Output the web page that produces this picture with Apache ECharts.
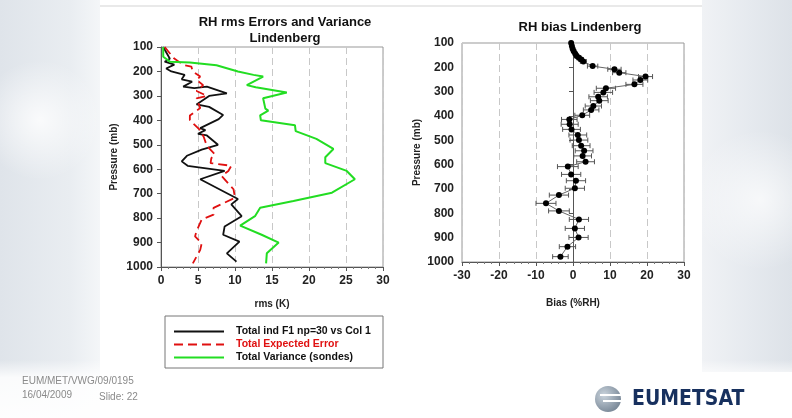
<!DOCTYPE html>
<html>
<head>
<meta charset="utf-8">
<script src="https://cdn.jsdelivr.net/npm/echarts@6/dist/echarts.min.js"></script>
<style>
  html, body { margin: 0; padding: 0; background: #fff; }
  #chart { width: 792px; height: 418px; }
</style>
</head>
<body>
<div id="chart"></div>
<script>
// rms profiles, [rms (K), pressure (mb)]
var rmsF1 = [[0.3,100],[1.2,148],[0.5,160],[1.8,172],[0.7,188],[1.4,200],[3.2,214],[2.8,232],[4.2,242],
    [3.0,262],[4.5,268],[6.2,262],[8.9,290],[6.5,300],[4.8,335],[6.5,345],[8.4,378],[7.8,395],[5.3,432],
    [6.0,440],[5.0,455],[6.2,462],[7.7,500],[5.5,520],[3.5,545],[2.8,568],[3.6,586],[8.6,607],[5.3,641],
    [10.4,722],[9.5,744],[10.9,792],[8.6,834],[8.4,868],[10.6,896],[8.9,944],[10.2,978]];
var rmsExpected = [[0.5,100],[1.7,145],[3.0,173],[4.1,180],[4.3,200],[5.3,221],[4.8,235],[5.7,256],[4.8,280],
    [6.2,300],[4.8,310],[5.3,350],[3.9,380],[3.9,400],[5.3,440],[5.8,470],[6.2,505],[7.3,540],[6.8,555],
    [6.7,575],[9.5,586],[9.1,607],[8.2,628],[9.8,682],[10.0,717],[7.1,758],[7.1,786],[5.5,806],[4.8,854],
    [4.6,875],[5.5,903],[5.3,930],[4.3,985]];
var varSondes = [[0.3,100],[0.3,140],[1.2,160],[3.9,163],[7.5,175],[10.4,200],[12.5,214],[13.8,221],[11.6,256],
    [12.8,265],[17.0,286],[13.8,310],[14.1,352],[14.5,360],[13.4,380],[13.5,400],[18.1,420],[18.2,444],
    [21.0,476],[23.3,517],[22.2,551],[22.2,575],[25.1,607],[26.2,641],[23.1,696],[17.9,730],[13.4,758],
    [12.7,792],[10.7,831],[13.6,868],[15.9,900],[14.3,944],[14.2,985]];

// bias profile, [bias (%RH), pressure (mb), half error]
var bias = [[-0.5,100,0.2],[-0.3,112,0.2],[-0.1,124,0.2],[0.2,134,0.3],[0.6,144,0.3],[1.0,153,0.4],
    [1.6,161,0.5],[2.2,168,0.6],[2.8,176,0.8],[5.3,195,1.4],[11.2,208,1.8],[12.5,222,1.8],[19.6,238,1.9],
    [18.2,252,2.0],[16.6,270,2.3],[8.9,286,2.6],[8.2,303,2.5],[6.8,321,2.5],[7.1,337,2.4],[5.5,359,2.2],
    [4.9,375,2.1],[2.5,397,2.0],[-1.0,414,2.1],[-0.9,434,2.3],[-0.4,455,2.4],[1.3,478,2.4],[1.6,499,2.4],
    [2.2,522,2.4],[3.0,543,2.4],[2.6,564,2.4],[3.4,588,2.4],[-1.4,608,2.8],[-0.5,640,2.6],[0.8,666,2.6],
    [0.5,697,2.6],[-3.8,725,2.6],[-7.3,759,2.7],[-3.8,790,2.8],[1.6,825,2.6],[0.5,862,2.6],[1.5,899,2.6],
    [-1.5,937,2.2],[-3.4,978,2.1]];

var legendNames = ['Total ind F1 np=30 vs Col 1', 'Total Expected Error', 'Total Variance (sondes)'];
var footerLines = ['EUM/MET/VWG/09/0195', '16/04/2009'];

var chart = echarts.init(document.getElementById('chart'));

var axisFont = { color: '#222', fontSize: 12, fontWeight: 'bold' };
var nameFont = { color: '#222', fontSize: 10, fontWeight: 'bold' };

function yAxisFor(gridIndex, gap) {
    return {
        gridIndex: gridIndex, type: 'value', inverse: true, min: 100, max: 1000, interval: 100,
        name: 'Pressure (mb)', nameLocation: 'middle', nameGap: gap, nameTextStyle: nameFont,
        axisLine: { show: true, lineStyle: { color: '#555' } },
        axisTick: { show: true, length: 4, lineStyle: { color: '#555' } },
        axisLabel: Object.assign({ formatter: function (v) { return String(v); } }, axisFont),
        splitLine: { show: false }
    };
}

var option = {
    backgroundColor: '#fff',
    textStyle: { fontFamily: 'Liberation Sans, Arial, sans-serif' },
    animation: false,
    title: [
        { text: 'RH rms Errors and Variance\nLindenberg', left: 280, top: 9, textAlign: 'center',
          textStyle: { fontSize: 13, fontWeight: 'bold', color: '#111', lineHeight: 16 } },
        { text: 'RH bias Lindenberg', left: 575, top: 16, textAlign: 'center',
          textStyle: { fontSize: 13, fontWeight: 'bold', color: '#111' } }
    ],
    grid: [
        { left: 161, right: 409, top: 47, bottom: 151, show: true, borderColor: '#999', borderWidth: 1 },
        { left: 462, right: 108, top: 43, bottom: 156, show: true, borderColor: '#999', borderWidth: 1 }
    ],
    legend: {
        orient: 'vertical', left: 168, top: 321, itemGap: 2, itemWidth: 50, itemHeight: 10,
        itemStyle: { opacity: 0 },
        textStyle: { fontSize: 10.5, fontWeight: 'bold', color: '#111', padding: [0, 0, 0, 7] },
        data: [
            { name: legendNames[0] },
            { name: legendNames[1], textStyle: { color: '#e01010' } },
            { name: legendNames[2] }
        ]
    },
    xAxis: [
        { gridIndex: 0, type: 'value', min: 0, max: 30, interval: 5,
          name: 'rms (K)', nameLocation: 'middle', nameGap: 32, nameTextStyle: nameFont,
          axisLine: { lineStyle: { color: '#555' } },
          axisTick: { show: true, length: 4, lineStyle: { color: '#555' } },
          minorTick: { show: true, splitNumber: 5, length: 2, lineStyle: { color: '#777' } },
          axisLabel: axisFont,
          splitLine: { show: true, lineStyle: { color: '#c8c8c8', type: [7, 4] } } },
        { gridIndex: 1, type: 'value', min: -30, max: 30, interval: 10,
          name: 'Bias (%RH)', nameLocation: 'middle', nameGap: 36, nameTextStyle: nameFont,
          axisLine: { onZero: false, lineStyle: { color: '#555' } },
          axisTick: { show: true, length: 4, lineStyle: { color: '#555' } },
          minorTick: { show: true, splitNumber: 5, length: 2, lineStyle: { color: '#777' } },
          axisLabel: axisFont,
          splitLine: { show: true, lineStyle: { color: '#c8c8c8', type: [7, 4] } } }
    ],
    yAxis: [yAxisFor(0, 42), yAxisFor(1, 40)],
    series: [
        { name: legendNames[0], type: 'line', xAxisIndex: 0, yAxisIndex: 0, symbol: 'none',
          lineStyle: { color: '#111', width: 1.8 }, itemStyle: { color: '#111' }, data: rmsF1 },
        { name: legendNames[1], type: 'line', xAxisIndex: 0, yAxisIndex: 0, symbol: 'none',
          lineStyle: { color: '#e01010', width: 1.8, type: [9, 5] }, itemStyle: { color: '#e01010' },
          data: rmsExpected },
        { name: legendNames[2], type: 'line', xAxisIndex: 0, yAxisIndex: 0, symbol: 'none',
          lineStyle: { color: '#22dd22', width: 2 }, itemStyle: { color: '#22dd22' }, data: varSondes },
        { name: 'errbar', type: 'custom', xAxisIndex: 1, yAxisIndex: 1, silent: true,
          encode: { x: 0, y: 1 },
          renderItem: function (params, api) {
              var x = api.value(0), p = api.value(1), e = api.value(2);
              var a = api.coord([x - e, p]), b = api.coord([x + e, p]);
              var st = { stroke: '#555', lineWidth: 1 };
              return { type: 'group', children: [
                  { type: 'line', shape: { x1: a[0], y1: a[1], x2: b[0], y2: b[1] }, style: st },
                  { type: 'line', shape: { x1: a[0], y1: a[1] - 2.5, x2: a[0], y2: a[1] + 2.5 }, style: st },
                  { type: 'line', shape: { x1: b[0], y1: b[1] - 2.5, x2: b[0], y2: b[1] + 2.5 }, style: st }
              ] };
          },
          data: bias },
        { name: 'bias', type: 'line', xAxisIndex: 1, yAxisIndex: 1, symbol: 'circle', symbolSize: 6,
          lineStyle: { color: '#666', width: 1 }, itemStyle: { color: '#000' },
          data: bias.map(function (d) { return [d[0], d[1]]; }) }
    ],
    graphic: [
        // slide background on the sides
        { type: 'rect', z: -20, shape: { x: 0, y: 0, width: 100, height: 418 },
          style: { fill: new echarts.graphic.LinearGradient(0, 0, 1, 0, [
              { offset: 0, color: '#dfe4ea' }, { offset: 0.7, color: '#e9edf1' }, { offset: 1, color: '#f4f6f8' }]) } },
        { type: 'rect', z: -20, shape: { x: 702, y: 0, width: 90, height: 372 },
          style: { fill: new echarts.graphic.LinearGradient(0, 0, 1, 0, [
              { offset: 0, color: '#f0f2f5' }, { offset: 0.5, color: '#e6eaef' }, { offset: 1, color: '#dde2e8' }]) } },
        { type: 'rect', z: -19, shape: { x: 0, y: 360, width: 792, height: 58 },
          style: { fill: new echarts.graphic.LinearGradient(0, 0, 0, 1, [
              { offset: 0, color: 'rgba(255,255,255,0)' }, { offset: 0.3, color: 'rgba(255,255,255,0.85)' },
              { offset: 1, color: 'rgba(255,255,255,0.95)' }]) } },
        { type: 'circle', z: -19, shape: { cx: 40, cy: 120, r: 60 },
          style: { fill: new echarts.graphic.RadialGradient(0.5, 0.5, 0.5, [
              { offset: 0, color: 'rgba(255,255,255,0.8)' }, { offset: 1, color: 'rgba(255,255,255,0)' }]) } },
        { type: 'circle', z: -19, shape: { cx: 760, cy: 200, r: 70 },
          style: { fill: new echarts.graphic.RadialGradient(0.5, 0.5, 0.5, [
              { offset: 0, color: 'rgba(255,255,255,0.7)' }, { offset: 1, color: 'rgba(255,255,255,0)' }]) } },
        { type: 'line', z: -10, shape: { x1: 100, y1: 6, x2: 702, y2: 6 }, style: { stroke: '#e2e2e2', lineWidth: 1.5 } },
        // legend frame
        { type: 'rect', shape: { x: 165, y: 316, width: 218, height: 52 },
          style: { fill: 'none', stroke: '#777', lineWidth: 1 } },
        // footer
        { type: 'text', left: 22, top: 376, style: { text: footerLines[0], fill: '#8a8a8a', fontSize: 10 } },
        { type: 'text', left: 22, top: 390, style: { text: footerLines[1], fill: '#8a8a8a', fontSize: 10 } },
        { type: 'text', left: 99, top: 392, style: { text: 'Slide: 22', fill: '#8a8a8a', fontSize: 10 } },
        // logo
        { type: 'circle', shape: { cx: 608, cy: 399, r: 13 },
          style: { fill: new echarts.graphic.RadialGradient(0.35, 0.35, 0.8, [
              { offset: 0, color: '#c9d3dc' }, { offset: 1, color: '#6f7e8e' }]) } },
        { type: 'line', shape: { x1: 600, y1: 395, x2: 622, y2: 395 }, style: { stroke: '#fff', lineWidth: 2 } },
        { type: 'line', shape: { x1: 603, y1: 401, x2: 622, y2: 401 }, style: { stroke: '#fff', lineWidth: 2 } },
        { type: 'text', left: 632, top: 389, style: { text: 'EUMETSAT', fill: '#17305e',
          font: 'bold 21px "Liberation Sans Narrow", "DejaVu Sans Condensed", Arial, sans-serif' } }
    ]
};
chart.setOption(option);
</script>
</body>
</html>
